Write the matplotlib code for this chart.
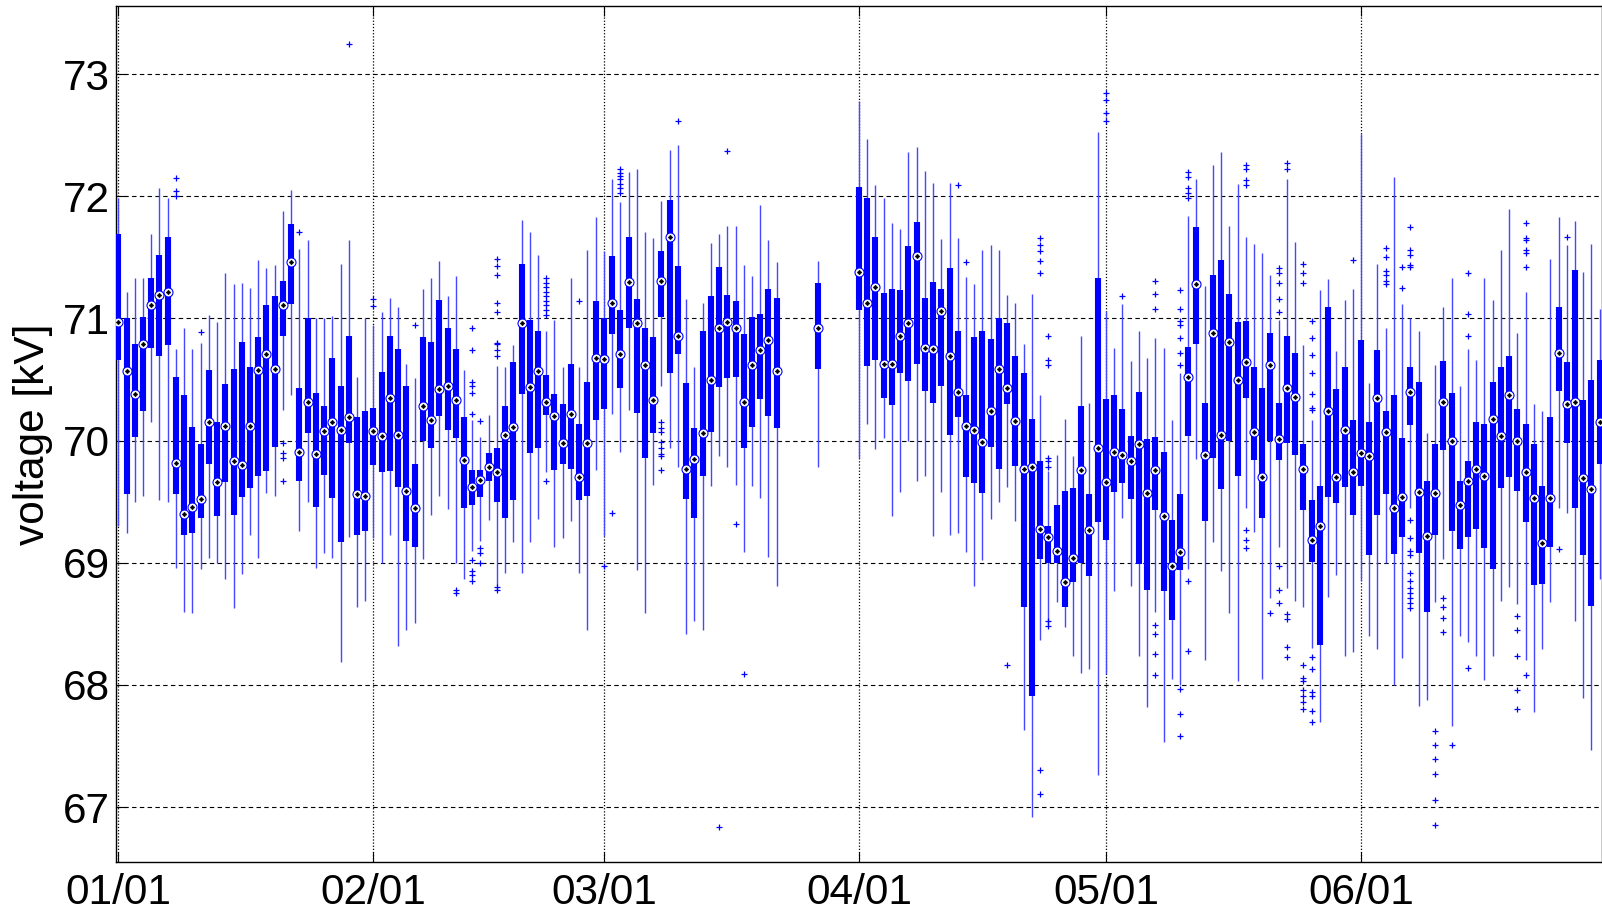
import numpy as np
import matplotlib
matplotlib.use("Agg")
import matplotlib.pyplot as plt

plt.rcParams['font.family'] = ['Liberation Sans', 'DejaVu Sans']

# day index (0 = 01/01), days without data are skipped
days = list(range(0, 81)) + [85] + list(range(90, 181))

whisk_lo = [
    69.30, 69.24, 69.50, 69.55, 70.15, 69.51, 69.50, 68.96, 68.60, 68.59,
    68.95, 69.04, 69.00, 68.87, 68.63, 68.91, 69.23, 69.04, 69.57, 69.55,
    70.25, 70.37, 69.26, 69.50, 68.96, 69.08, 69.04, 68.19, 69.21, 68.64,
    68.69, 69.20, 69.00, 69.23, 68.32, 68.45, 68.51, 69.03, 69.39, 69.55,
    69.44, 69.00, 68.87, 69.10, 69.18, 69.35, 68.82, 68.92, 69.17, 68.92,
    69.17, 69.36, 69.74, 69.13, 69.20, 69.34, 68.92, 68.45, 69.76, 69.22,
    70.22, 69.91, 70.25, 68.94, 68.59, 69.64, 70.45, 69.94, 69.78, 68.42,
    68.52, 68.45, 69.63, 69.87, 69.78, 69.64, 69.09, 69.63, 69.53, 69.05, 68.81,
    69.78,
    69.86, 70.14, 69.93, 70.02, 69.38, 69.58, 70.00, 69.67, 69.71, 69.22,
    69.58, 69.23, 69.24, 69.09, 68.81, 69.02, 69.36, 69.50, 69.62, 69.34,
    67.63, 66.92, 68.37, 68.49, 68.68, 68.47, 68.24, 68.10, 68.13, 67.26,
    68.09, 68.77, 69.37, 68.81, 68.24, 67.82, 68.60, 67.53, 68.05, 68.00,
    68.95, 69.85, 68.20, 69.17, 68.93, 68.59, 68.03, 69.45, 69.25, 68.05,
    68.71, 69.13, 68.79, 68.69, 68.64, 68.30, 67.70, 68.72, 68.90, 68.24,
    68.27, 68.85, 68.40, 68.29, 69.00, 68.00, 68.22, 69.45, 67.83, 67.88,
    68.68, 69.03, 67.66, 68.40, 68.35, 68.24, 68.04, 68.24, 68.69, 68.80,
    68.66, 68.20, 67.78, 68.29, 68.68, 69.45, 69.41, 68.52, 67.89, 67.47, 68.87]

q1 = [
    70.66, 69.56, 70.03, 70.24, 70.76, 70.69, 70.78, 69.56, 69.23, 69.24,
    69.37, 69.81, 69.38, 69.66, 69.39, 69.54, 69.61, 69.71, 69.75, 69.95,
    70.86, 71.12, 69.67, 70.06, 69.46, 69.72, 69.53, 69.17, 69.98, 69.23,
    69.26, 69.80, 69.74, 69.75, 69.62, 69.18, 69.13, 70.00, 69.94, 70.20,
    70.09, 70.02, 69.45, 69.47, 69.54, 69.67, 69.50, 69.37, 69.51, 70.38,
    69.90, 69.94, 70.21, 69.76, 69.81, 69.77, 69.51, 69.55, 70.17, 70.26,
    70.87, 70.43, 70.92, 70.23, 69.86, 70.06, 71.01, 70.55, 70.71, 69.52,
    69.37, 69.71, 70.07, 70.44, 70.51, 70.52, 69.94, 70.11, 70.34, 70.20, 70.10,
    70.59,
    71.07, 70.61, 70.66, 70.35, 70.29, 70.55, 70.49, 70.63, 70.41, 70.31,
    70.45, 70.05, 70.19, 69.70, 69.65, 69.57, 69.95, 69.77, 70.30, 69.79,
    68.64, 67.91, 69.03, 69.00, 69.00, 68.64, 68.84, 69.00, 68.89, 69.33,
    69.19, 69.58, 69.65, 69.52, 68.99, 68.78, 69.43, 68.77, 68.53, 68.94,
    70.04, 70.79, 69.34, 69.86, 69.60, 70.00, 69.71, 70.35, 69.84, 69.37,
    70.00, 69.84, 69.98, 69.88, 69.43, 69.01, 68.33, 69.54, 69.49, 69.62,
    69.39, 69.63, 69.06, 69.39, 69.56, 69.07, 69.21, 70.13, 69.08, 68.60,
    69.23, 69.92, 69.26, 69.11, 69.21, 69.28, 69.12, 68.95, 69.61, 69.70,
    69.59, 69.33, 68.82, 68.83, 69.13, 70.41, 69.98, 69.45, 69.06, 68.65, 69.81]

median = [
    70.97, 70.57, 70.38, 70.79, 71.11, 71.19, 71.22, 69.82, 69.40, 69.46,
    69.52, 70.15, 69.66, 70.12, 69.83, 69.80, 70.12, 70.58, 70.71, 70.59,
    71.11, 71.46, 69.91, 70.32, 69.89, 70.08, 70.15, 70.09, 70.19, 69.56,
    69.55, 70.08, 70.04, 70.35, 70.05, 69.59, 69.45, 70.28, 70.17, 70.42,
    70.45, 70.33, 69.84, 69.62, 69.68, 69.78, 69.74, 70.05, 70.11, 70.96,
    70.44, 70.57, 70.32, 70.20, 69.98, 70.22, 69.70, 69.98, 70.68, 70.67,
    71.13, 70.71, 71.30, 70.96, 70.62, 70.33, 71.31, 71.67, 70.86, 69.77,
    69.85, 70.06, 70.50, 70.92, 70.97, 70.92, 70.32, 70.62, 70.74, 70.82, 70.57,
    70.92,
    71.38, 71.13, 71.26, 70.63, 70.63, 70.86, 70.96, 71.51, 70.76, 70.75,
    71.06, 70.69, 70.40, 70.12, 70.09, 69.99, 70.24, 70.59, 70.43, 70.16,
    69.77, 69.78, 69.28, 69.21, 69.10, 68.84, 69.04, 69.76, 69.27, 69.94,
    69.66, 69.91, 69.88, 69.83, 69.97, 69.57, 69.76, 69.38, 68.97, 69.09,
    70.52, 71.28, 69.88, 70.88, 70.05, 70.81, 70.50, 70.64, 70.07, 69.70,
    70.62, 70.01, 70.43, 70.36, 69.77, 69.19, 69.30, 70.24, 69.70, 70.09,
    69.74, 69.90, 69.87, 70.35, 70.07, 69.45, 69.54, 70.40, 69.58, 69.22,
    69.57, 70.32, 70.00, 69.47, 69.67, 69.77, 69.71, 70.18, 70.04, 70.37,
    70.00, 69.74, 69.53, 69.16, 69.53, 70.72, 70.30, 70.32, 69.69, 69.60, 70.15]

q3 = [
    71.69, 71.00, 70.79, 71.01, 71.33, 71.52, 71.67, 70.52, 70.37, 70.11,
    69.97, 70.58, 70.15, 70.46, 70.59, 70.81, 70.60, 70.85, 71.11, 71.18,
    71.31, 71.77, 70.43, 71.00, 70.39, 70.28, 70.68, 70.45, 70.86, 70.19,
    70.24, 70.27, 70.56, 70.86, 70.75, 70.45, 69.81, 70.85, 70.81, 71.15,
    70.92, 70.75, 70.19, 69.76, 69.76, 69.90, 69.94, 70.28, 70.64, 71.45,
    70.99, 70.90, 70.54, 70.38, 70.30, 70.63, 70.14, 70.48, 71.14, 71.00,
    71.51, 71.07, 71.67, 71.16, 70.92, 70.85, 71.55, 71.97, 71.43, 70.47,
    70.10, 70.90, 71.18, 71.42, 71.19, 71.14, 70.87, 71.01, 71.04, 71.24, 71.17,
    71.29,
    72.08, 71.99, 71.67, 71.21, 71.24, 71.23, 71.59, 71.79, 71.17, 71.30,
    71.24, 71.41, 70.90, 70.37, 70.85, 70.90, 70.83, 71.00, 70.96, 70.69,
    70.55, 70.18, 69.83, 69.30, 69.47, 69.59, 69.61, 70.28, 69.56, 71.33,
    70.34, 70.37, 70.26, 70.04, 70.40, 70.01, 70.03, 69.91, 69.35, 69.56,
    70.77, 71.75, 70.31, 71.36, 71.48, 71.20, 70.97, 70.98, 70.60, 70.43,
    70.88, 70.31, 70.86, 70.72, 69.97, 69.51, 69.63, 71.09, 70.42, 70.60,
    70.17, 70.82, 70.15, 70.74, 70.24, 70.37, 70.02, 70.60, 70.48, 69.67,
    69.97, 70.65, 70.39, 69.67, 69.83, 70.15, 70.14, 70.48, 70.60, 70.69,
    70.26, 70.14, 69.97, 69.63, 70.19, 71.09, 70.64, 71.40, 70.33, 70.50, 70.66]

whisk_hi = [
    71.99, 71.22, 71.33, 71.33, 71.69, 72.07, 71.99, 70.75, 70.92, 70.75,
    70.80, 71.03, 70.97, 71.37, 71.28, 71.29, 71.25, 71.48, 71.41, 71.44,
    71.88, 72.05, 71.57, 71.64, 71.00, 71.00, 71.02, 71.45, 71.64, 70.52,
    71.00, 70.95, 71.05, 71.17, 71.09, 70.63, 70.51, 71.24, 71.33, 71.47,
    71.18, 71.35, 70.58, 70.17, 70.03, 70.21, 70.61, 70.60, 70.78, 71.81,
    71.71, 71.52, 70.90, 70.99, 70.60, 71.33, 70.60, 71.56, 71.83, 71.55,
    72.14, 71.95, 72.20, 72.22, 71.71, 71.66, 71.96, 72.38, 72.42, 71.16,
    70.60, 71.13, 71.62, 71.69, 71.76, 71.76, 71.44, 71.35, 71.93, 71.64, 71.46,
    71.47,
    72.78, 72.47, 72.09, 71.99, 71.78, 71.73, 72.36, 72.40, 72.21, 72.11,
    71.65, 72.11, 71.66, 71.34, 71.28, 71.56, 71.60, 71.56, 71.19, 71.13,
    70.79, 71.20, 70.37, 69.75, 69.88, 70.18, 69.87, 70.86, 70.31, 72.53,
    71.06, 70.76, 71.12, 70.65, 70.90, 70.68, 70.84, 70.76, 70.17, 70.55,
    71.84, 72.14, 71.27, 72.26, 72.36, 71.76, 72.10, 71.67, 71.61, 71.54,
    71.36, 70.99, 72.14, 71.63, 70.78, 70.17, 71.23, 71.32, 70.73, 71.15,
    71.24, 72.51, 70.47, 71.45, 70.92, 72.16, 71.12, 71.00, 70.90, 70.06,
    70.62, 71.09, 71.33, 70.45, 70.75, 70.66, 71.33, 71.15, 71.56, 71.90,
    70.88, 71.22, 70.30, 70.24, 71.49, 71.83, 71.60, 71.80, 71.38, 71.61, 71.08]

# outliers per day
outliers = {
    7: [72.15, 72.04, 72.00],
    10: [70.89],
    20: [69.98, 69.90, 69.86, 69.67],
    22: [71.71],
    28: [73.25],
    31: [71.16, 71.10],
    36: [70.95],
    41: [68.78, 68.75],
    43: [70.92, 70.74, 70.48, 70.45, 70.39, 70.22, 69.02, 68.93, 68.90, 68.85],
    44: [70.16, 69.12, 69.08, 69.00],
    46: [71.49, 71.43, 71.36, 71.13, 71.05, 70.80, 70.79, 70.74, 70.69, 68.80, 68.78],
    52: [71.33, 71.29, 71.26, 71.22, 71.18, 71.14, 71.11, 71.07, 71.03, 69.67],
    56: [71.14],
    59: [68.97],
    60: [69.41],
    61: [72.22, 72.19, 72.17, 72.14, 72.10, 72.07, 72.03],
    66: [70.15, 70.10, 70.07, 69.99, 69.94, 69.89, 69.87, 69.76],
    68: [72.62],
    73: [66.84],
    74: [72.37],
    75: [69.32],
    76: [68.09],
    102: [72.09],
    103: [71.46],
    108: [68.16],
    112: [71.66, 71.60, 71.55, 71.47, 71.37, 67.30, 67.11],
    113: [70.86, 70.66, 70.62, 69.86, 69.83, 69.78, 68.52, 68.48],
    120: [72.85, 72.79, 72.68, 72.62],
    122: [71.18],
    126: [71.31, 71.20, 71.08, 68.49, 68.42, 68.25, 68.08],
    129: [71.23, 71.08, 70.98, 70.95, 70.84, 70.72, 70.62, 67.97, 67.76, 67.58],
    130: [72.20, 72.16, 72.07, 72.03, 71.99, 68.85, 68.28],
    137: [72.26, 72.22, 72.13, 72.09, 69.27, 69.19, 69.12],
    140: [68.59],
    141: [71.41, 71.37, 71.29, 71.16, 71.05, 68.97, 68.78, 68.67],
    142: [72.27, 72.22, 68.58, 68.54, 68.31, 68.23],
    144: [71.45, 71.37, 71.29, 68.16, 68.06, 68.03, 67.96, 67.91, 67.86, 67.80],
    145: [70.98, 70.84, 70.70, 70.55, 70.38, 70.27, 70.25, 68.23, 68.13, 67.94,
          67.91, 67.79, 67.70],
    150: [71.48],
    154: [71.58, 71.50, 71.39, 71.36, 71.31, 71.28],
    156: [71.42, 71.25],
    157: [71.75, 71.56, 71.52, 71.44, 71.42, 69.35, 69.20, 69.10, 69.06, 68.92,
          68.85, 68.79, 68.75, 68.71, 68.67, 68.63],
    160: [67.62, 67.51, 67.39, 67.27, 67.06, 66.85],
    161: [68.71, 68.64, 68.55, 68.43],
    162: [67.51],
    164: [71.37, 71.04, 70.86, 68.14],
    170: [68.56, 68.45, 68.24, 67.96, 67.80],
    171: [71.78, 71.66, 71.64, 71.56, 71.54, 71.42, 68.08],
    175: [69.11],
    176: [71.67],
}

month_days = [0, 31, 59, 90, 120, 151]
month_labels = ['01/01', '02/01', '03/01', '04/01', '05/01', '06/01']
yticks = [67, 68, 69, 70, 71, 72, 73]

out_x = [d for d, vals in outliers.items() for v in vals]
out_y = [v for d, vals in outliers.items() for v in vals]

fig = plt.figure(figsize=(16.02, 9.13), dpi=100)
ax = fig.add_axes([116 / 1602, 1 - 862 / 913, 1 - 116 / 1602, (862 - 5.8) / 913])

# grid
for y in yticks:
    ax.axhline(y, color='black', lw=0.8, ls=(0, (4, 3)), zorder=0)
for d in month_days:
    ax.axvline(d, color='black', lw=0.9, ls=(0, (1, 1.5)), zorder=0)

# whiskers, boxes, medians, outliers
ax.vlines(days, whisk_lo, whisk_hi, color='#4747ff', lw=1.0, zorder=2)
ax.vlines(days, q1, q3, color='#0000ff', lw=4.4, zorder=3)
ax.plot(out_x, out_y, '+', color='#0000ff', ms=4.5, mew=0.9, zorder=3)
ax.plot(days, median, 'o', ms=6.5, mfc='white', mec='#0000ff', mew=0.8, zorder=4)
ax.plot(days, median, 'D', ms=2.3, mfc='black', mec='black', mew=0.4, zorder=5)

ax.set_xlim(-0.28, 180.28)
ax.set_ylim(66.55, 73.56)
ax.set_xticks(month_days)
ax.set_xticklabels(month_labels)
ax.set_yticks(yticks)
ax.tick_params(axis='both', direction='in', length=7, width=0.8, labelsize=30.5,
               top=True)
ax.tick_params(axis='x', pad=8)
ax.tick_params(axis='y', pad=4.5)
ax.set_ylabel('voltage [kV]', fontsize=30.5)
ax.yaxis.set_label_coords(-0.0424, 0.5)
for s in ax.spines.values():
    s.set_linewidth(1.0)

fig.savefig('out.png', dpi=100)
